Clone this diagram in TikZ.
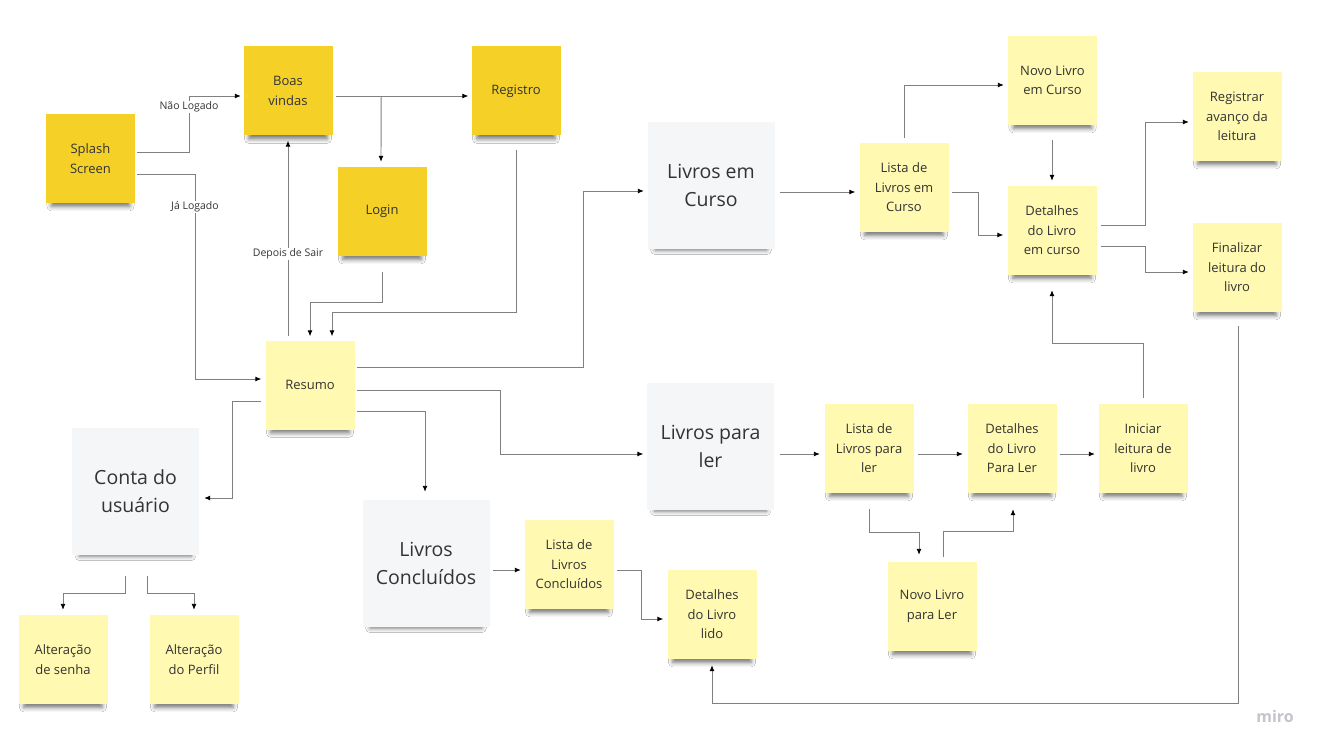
\documentclass[tikz,border=0pt]{standalone}
\usepackage{fontspec}
\setmainfont{Open Sans}
\usetikzlibrary{arrows.meta,calc,shadows.blur}

\definecolor{stickydark}{HTML}{F5D128}
\definecolor{stickylight}{HTML}{FFF9B1}
\definecolor{stickygrey}{HTML}{F5F6F8}
\definecolor{inktext}{HTML}{333333}
\definecolor{wire}{HTML}{808080}
\definecolor{brand}{HTML}{C4C4CC}

\tikzset{
  note/.style={minimum width=89pt, minimum height=89pt, inner sep=0pt,
    align=center, text=inktext, font=\fontsize{13}{19.5}\selectfont,
    blur shadow={shadow xshift=0pt, shadow yshift=-10pt, shadow scale=0.88,
      shadow opacity=55, shadow blur radius=5pt}},
  darknote/.style={note, fill=stickydark},
  lightnote/.style={note, fill=stickylight},
  bignote/.style={note, fill=stickygrey, minimum width=127pt,
    minimum height=127pt, font=\fontsize{19.5}{28}\selectfont},
  conn/.style={draw=wire, line width=0.9pt,
    -{Latex[length=6pt,width=5pt,color=black]}},
  lbl/.style={fill=white, inner sep=1pt, text=inktext,
    font=\fontsize{10.5}{12}\selectfont},
}

\begin{document}
\begin{tikzpicture}[x=1pt, y=-1pt]
  \fill[white] (0,0) rectangle (1325,754);
  \useasboundingbox (0,0) rectangle (1325,754);

  % --- entry and authentication
  \node[darknote] (splash)   at (90.5,158.5) {Splash\\Screen};
  \node[darknote] (boas)     at (288,91)     {Boas\\vindas};
  \node[darknote] (registro) at (516,91)     {Registro};
  \node[darknote] (login)    at (382,211.5)  {Login};
  \node[lightnote] (resumo)  at (310,385)    {Resumo};

  % --- books in progress
  \node[bignote]   (curso)      at (711,185.5)   {Livros em\\Curso};
  \node[lightnote] (listacurso) at (904,187.5)   {Lista de\\Livros em\\Curso};
  \node[lightnote] (novocurso)  at (1052.5,80.5) {Novo Livro\\em Curso};
  \node[lightnote] (detcurso)   at (1052,230.5)  {Detalhes\\do Livro\\em curso};
  \node[lightnote] (registrar)  at (1237,116.5)  {Registrar\\avanço da\\leitura};
  \node[lightnote] (finalizar)  at (1237,267.5)  {Finalizar\\leitura do\\livro};

  % --- books to read
  \node[bignote]   (paraler)  at (710.5,446.5) {Livros para\\ler};
  \node[lightnote] (listaler) at (869,448.5)   {Lista de\\Livros para\\ler};
  \node[lightnote] (detler)   at (1012,448.5)  {Detalhes\\do Livro\\Para Ler};
  \node[lightnote] (iniciar)  at (1143,448.5)  {Iniciar\\leitura de\\livro};
  \node[lightnote] (novoler)  at (932,606.5)   {Novo Livro\\para Ler};

  % --- account and finished books
  \node[bignote]   (conta)      at (135.5,491.5) {Conta do\\usuário};
  \node[bignote]   (concluidos) at (426,563.5)   {Livros\\Concluídos};
  \node[lightnote] (listaconc)  at (569,564.5)   {Lista de\\Livros\\Concluídos};
  \node[lightnote] (detlido)    at (712,614.5)   {Detalhes\\do Livro\\lido};
  \node[lightnote] (senha)      at (63,659.5)    {Alteração\\de senha};
  \node[lightnote] (perfil)     at (194,659.5)   {Alteração\\do Perfil};

  % --- connectors
  \draw[conn] ($(splash.east)+(2,-6.5)$) -- ++(52,0) |- ($(boas.west)+(-2.5,5)$);
  \draw[conn] ($(splash.east)+(2,15.5)$) -- ++(58,0) |- ($(resumo.west)+(-4,-6)$);
  \draw[conn] ($(resumo.north)+(-22,-4)$) -- ($(boas.south)+(0,5)$);
  \draw[conn] ($(boas.east)+(3,5)$) -- ($(registro.west)+(-3,5)$);
  \draw[conn] ($(boas.east)+(48.5,5)$) -- ($(login.north)+(-1,-5)$);
  \draw[conn] ($(login.south)+(0,16)$) -- ++(0,30) -| ($(resumo.north)+(0,-4)$);
  \draw[conn] ($(registro.south)+(0,14)$) -- ++(0,162.5) -| ($(resumo.north)+(22,-4)$);

  \draw[conn] ($(resumo.east)+(2,-18)$) -- ++(226.5,0) |- ($(curso.west)+(-3.5,5.5)$);
  \draw[conn] ($(curso.east)+(5,6.5)$) -- ($(listacurso.west)+(-4,4.5)$);
  \draw[conn] ($(listacurso.north)+(0,-5)$) |- ($(novocurso.west)+(-4,4.5)$);
  \draw[conn] ($(listacurso.east)+(3,4.5)$) -- ++(26.5,0) |- ($(detcurso.west)+(-4,4.5)$);
  \draw[conn] ($(novocurso.south)+(-0.5,15)$) -- ($(detcurso.north)+(0,-5)$);
  \draw[conn] ($(detcurso.east)+(4,-5.5)$) -- ++(44.5,0) |- ($(registrar.west)+(-3.5,5.5)$);
  \draw[conn] ($(detcurso.east)+(4,15.5)$) -- ++(44.5,0) |- ($(finalizar.west)+(-3.5,4.5)$);
  \draw[conn] ($(finalizar.south)+(1,14)$) -- ++(0,377) -| ($(detlido.south)+(0,6)$);
  \draw[conn] ($(iniciar.north)+(0,-6)$) -- ++(0,-54) -| ($(detcurso.south)+(0,15)$);

  \draw[conn] ($(resumo.east)+(2,5)$) -- ++(143.5,0) |- ($(paraler.west)+(-3.5,7.5)$);
  \draw[conn] ($(resumo.east)+(2,26)$) -| ($(concluidos.north)+(-1,-8)$);
  \draw[conn] ($(resumo.west)+(-4,16)$) -- ++(-28.5,0) |- ($(conta.east)+(5,6.5)$);
  \draw[conn] ($(conta.south)+(-10.5,21)$) -- ++(0,17) -| ($(senha.north)+(0,-5)$);
  \draw[conn] ($(conta.south)+(11.5,21)$) -- ++(0,17) -| ($(perfil.north)+(0,-5)$);
  \draw[conn] ($(concluidos.east)+(3.5,6.5)$) -- ($(listaconc.west)+(-3.5,5.5)$);
  \draw[conn] ($(listaconc.east)+(3.5,5.5)$) -- ++(24,0) |- ($(detlido.west)+(-4,4.5)$);

  \draw[conn] ($(paraler.east)+(5.5,7.5)$) -- ($(listaler.west)+(-4.5,5.5)$);
  \draw[conn] ($(listaler.east)+(4.5,5.5)$) -- ($(detler.west)+(-4.5,5.5)$);
  \draw[conn] ($(detler.east)+(3.5,5.5)$) -- ($(iniciar.west)+(-3.5,5.5)$);
  \draw[conn] ($(listaler.south)+(0,16)$) -- ++(0,23) -| ($(novoler.north)+(-13,-7)$);
  \draw[conn] ($(novoler.north)+(11,-5)$) -- ++(0,-25) -| ($(detler.south)+(1,16)$);

  % --- connector labels
  \node[lbl] (lnaologado) at (189,107) {Não Logado};
  \node[lbl] (jalogado)   at (195,207) {Já Logado};
  \node[lbl] (depois)     at (288,254) {Depois de Sair};

  % --- board watermark
  \node[text=brand, font=\fontsize{16}{18}\selectfont\bfseries] (marca) at (1275,716) {miro};
\end{tikzpicture}
\end{document}
